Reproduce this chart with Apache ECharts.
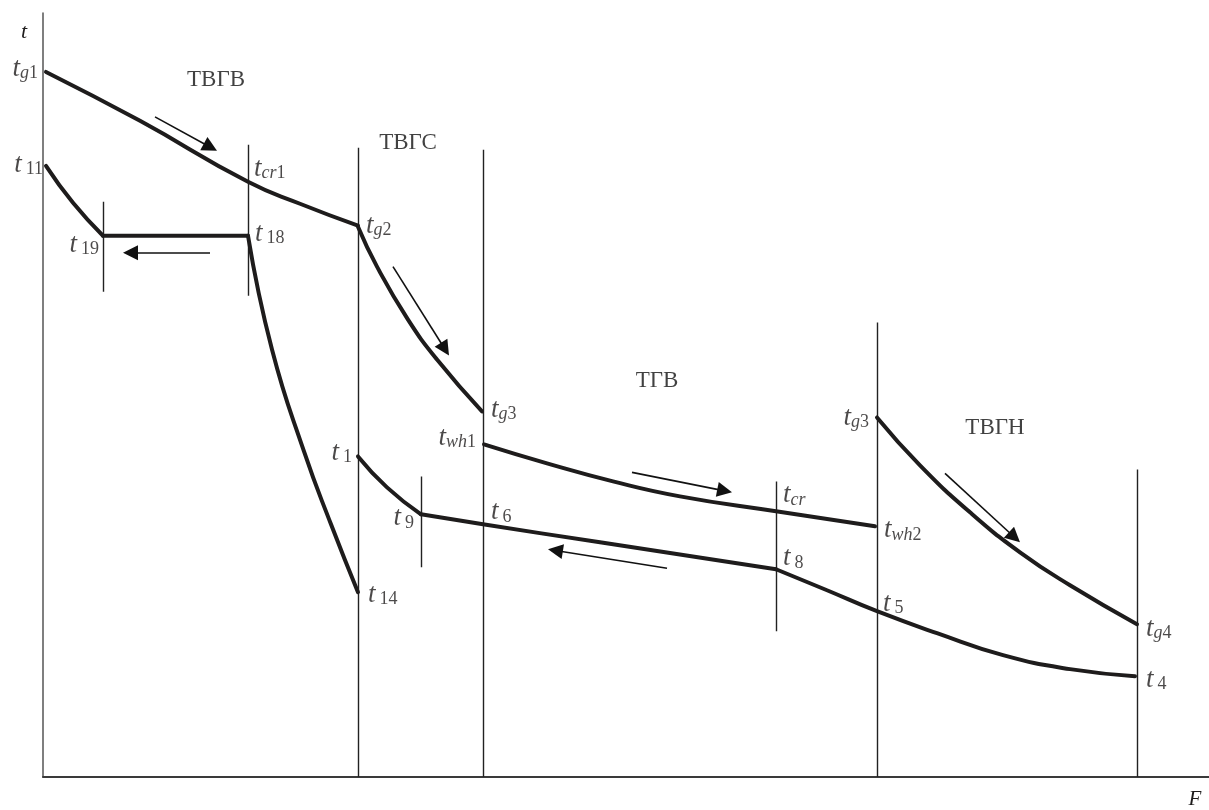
<!DOCTYPE html>
<html><head><meta charset="utf-8">
<script src="https://cdn.jsdelivr.net/npm/echarts@6/dist/echarts.min.js"></script>
<style>html,body{margin:0;padding:0;background:#fff}#c{width:1209px;height:810px}</style>
</head><body><div id="c"></div>
<script>
// Schematic values (arbitrary units): F along x, t along y
// Heating medium (gas / hot water) curves
const gasTVGV   = [[3,706],[97,657],[205,596],[257,574],[315,552]];      // tg1 -> tcr1 -> tg2
const gasTVGS   = [[315,551],[334,511],[365,458],[394,418],[439,366]];   // tg2 -> tg3
const waterTGV  = [[441,333],[504,314],[570,296],[637,281],[733,266],[832,251]]; // twh1 -> tcr -> twh2
const gasTVGN   = [[834,360],[877,312],[927,265],[977,225],[1027,192],[1094,153]]; // tg3 -> tg4
// Heated medium (water / steam) curves
const steam11_19 = [[3,612],[30,575],[60,542]];                           // t11 -> t19
const steam19_18 = [[60,542],[205,542]];                                  // t19 -> t18
const steam18_14 = [[205,542],[229,428],[261,326],[288,253],[315,185]];  // t18 -> t14
const water1_9   = [[315,321],[344,290],[378,263]];                       // t1 -> t9
const water9_8   = [[378,263],[440,253],[557,235],[733,208]];            // t9 -> t6 -> t8
const water8_4   = [[733,208],[784,187],[834,166],[894,144],[960,122],[1027,108],[1092,101]]; // t8 -> t5 -> t4

// Zone divider lines
const dividerX      = [60, 205, 315, 378, 440, 733, 834, 1094];
const dividerBottom = [486, 482, 0, 210, 0, 146, 0, 0];
const dividerTop    = [576, 633, 630, 301, 628, 296, 455, 308];

// Flow-direction arrows
const arrowFrom = [[112,661],[167,525],[350,511],[589,305],[624,209],[902,304]];
const arrowTo   = [[174,627],[80,525],[406,422],[689,285],[505,228],[977,235]];

// Zone names
const zoneNames = ['ТВГВ','ТВГС','ТГВ','ТВГН'];
const zoneAt    = [[173,698],[365,635],[614,397],[952,350]];

// Point labels (subscripts of t)
const labelSubs = ['g1','11','cr1','18','19','g2','g3','wh1','1','9','6','14','cr','wh2','8','5','g3','g4','4'];
const labelAnchors = [gasTVGV[0], steam11_19[0], gasTVGV[2], steam19_18[1], steam11_19[2], gasTVGS[0], gasTVGS[4],
  waterTGV[0], water1_9[0], water1_9[2], water9_8[1], steam18_14[4], waterTGV[4], waterTGV[5], water9_8[3],
  water8_4[2], gasTVGN[0], gasTVGN[5], water8_4[6]];
// placement style: [side, distance, dy]
const labelPlace = [['left',8,-3],['left',3,-1],['right',6,-13],['right',7,-2],['left',4,9],['right',8,-1],['right',9,-2],
  ['left',8,-7],['left',6,-4],['left',7,4],['right',8,-12],['right',10,3],['right',7,-16],['right',9,4],['right',7,-11],
  ['right',6,-7],['left',8,0],['right',9,5],['right',11,4]];

const SERIF = '"Liberation Serif","DejaVu Serif",serif';
const INK = '#1e1c1c';

function richOf(sub){
  const m = sub.match(/^([a-z]*)(\d*)$/);
  let s = '{t|t}';
  if (m[1]) s += '{i|' + m[1] + '}';
  if (m[2]) s += (m[1] ? '{n|' : '{d|') + m[2] + '}';
  return s;
}

const curveStyle = {color: INK, width: 4, cap: 'round', join: 'round'};
function curve(data, smooth){
  return {type:'line', data: data, smooth: smooth, symbol:'none', silent:true,
          lineStyle: curveStyle, z: 5};
}

const ARROW_LEN = 15;
const arrowData = arrowFrom.map((p,i)=>{
  const q = arrowTo[i];
  const dx = q[0]-p[0], dy = q[1]-p[1], L = Math.hypot(dx,dy);
  const back = ARROW_LEN/2;
  return {coords:[p, [q[0]-dx/L*back, q[1]-dy/L*back]]};
});

const dividerData = dividerX.map((x,i)=>({coords:[[x,dividerBottom[i]],[x,dividerTop[i]]]}));

const option = {
  animation: false,
  grid: {left: 43, right: 0, top: 13, bottom: 32},
  xAxis: {type:'value', min:0, max:1166, axisTick:{show:false}, axisLabel:{show:false}, splitLine:{show:false},
          axisLine:{show:true, lineStyle:{color:'#3a3a3a', width:2}},
          name:'F', nameLocation:'end', nameGap:-14,
          nameTextStyle:{fontFamily:SERIF, fontStyle:'italic', fontSize:21, color:INK, align:'center', verticalAlign:'top', padding:[12,0,0,0]}},
  yAxis: {type:'value', min:0, max:765, axisTick:{show:false}, axisLabel:{show:false}, splitLine:{show:false},
          axisLine:{show:true, lineStyle:{color:'#555', width:1.5}},
          name:'t', nameLocation:'end', nameGap:-8,
          nameTextStyle:{fontFamily:SERIF, fontStyle:'italic', fontSize:22, color:INK, align:'right', verticalAlign:'top', padding:[0,16,0,0]}},
  series: [
    curve(gasTVGV, 0.5), curve(gasTVGS, 0.5), curve(waterTGV, 0.5), curve(gasTVGN, 0.5),
    curve(steam11_19, 0.5), curve(steam19_18, false), curve(steam18_14, 0.5),
    curve(water1_9, 0.5), curve(water9_8, 0.5), curve(water8_4, 0.5),
    {type:'lines', coordinateSystem:'cartesian2d', silent:true, data: dividerData,
     lineStyle:{color:'#222', width:1.4, opacity:1}, symbol:['none','none'], z:3},
    {type:'lines', coordinateSystem:'cartesian2d', silent:true, data: arrowData,
     lineStyle:{color:'#111', width:1.6, opacity:1}, symbol:['none','triangle'], symbolSize:[10, ARROW_LEN], z:4},
    {type:'scatter', silent:true, symbolSize:0, z:6,
     data: zoneAt.map((p,i)=>({value:p, name: zoneNames[i]})),
     label:{show:true, position:'inside', formatter: p => p.name, fontFamily:SERIF, fontSize:23, color:'#111'}},
    {type:'scatter', silent:true, symbolSize:0, z:6,
     data: labelAnchors.map((p,i)=>({value:p, name: labelSubs[i],
        label:{position: labelPlace[i][0], distance: labelPlace[i][1], offset:[0, labelPlace[i][2]]}})),
     label:{show:true, formatter: p => richOf(p.name), color: INK,
        rich:{
          t:{fontFamily:SERIF, fontStyle:'italic', fontSize:27, color:INK},
          i:{fontFamily:SERIF, fontStyle:'italic', fontSize:18, color:INK, padding:[9,0,0,0]},
          n:{fontFamily:SERIF, fontSize:18, color:INK, padding:[9,0,0,0]},
          d:{fontFamily:SERIF, fontSize:18, color:INK, padding:[9,0,0,4]}
        }}}
  ]
};
const chart = echarts.init(document.getElementById('c'), null, {renderer:'canvas'});
chart.setOption(option);
</script>
</body></html>
